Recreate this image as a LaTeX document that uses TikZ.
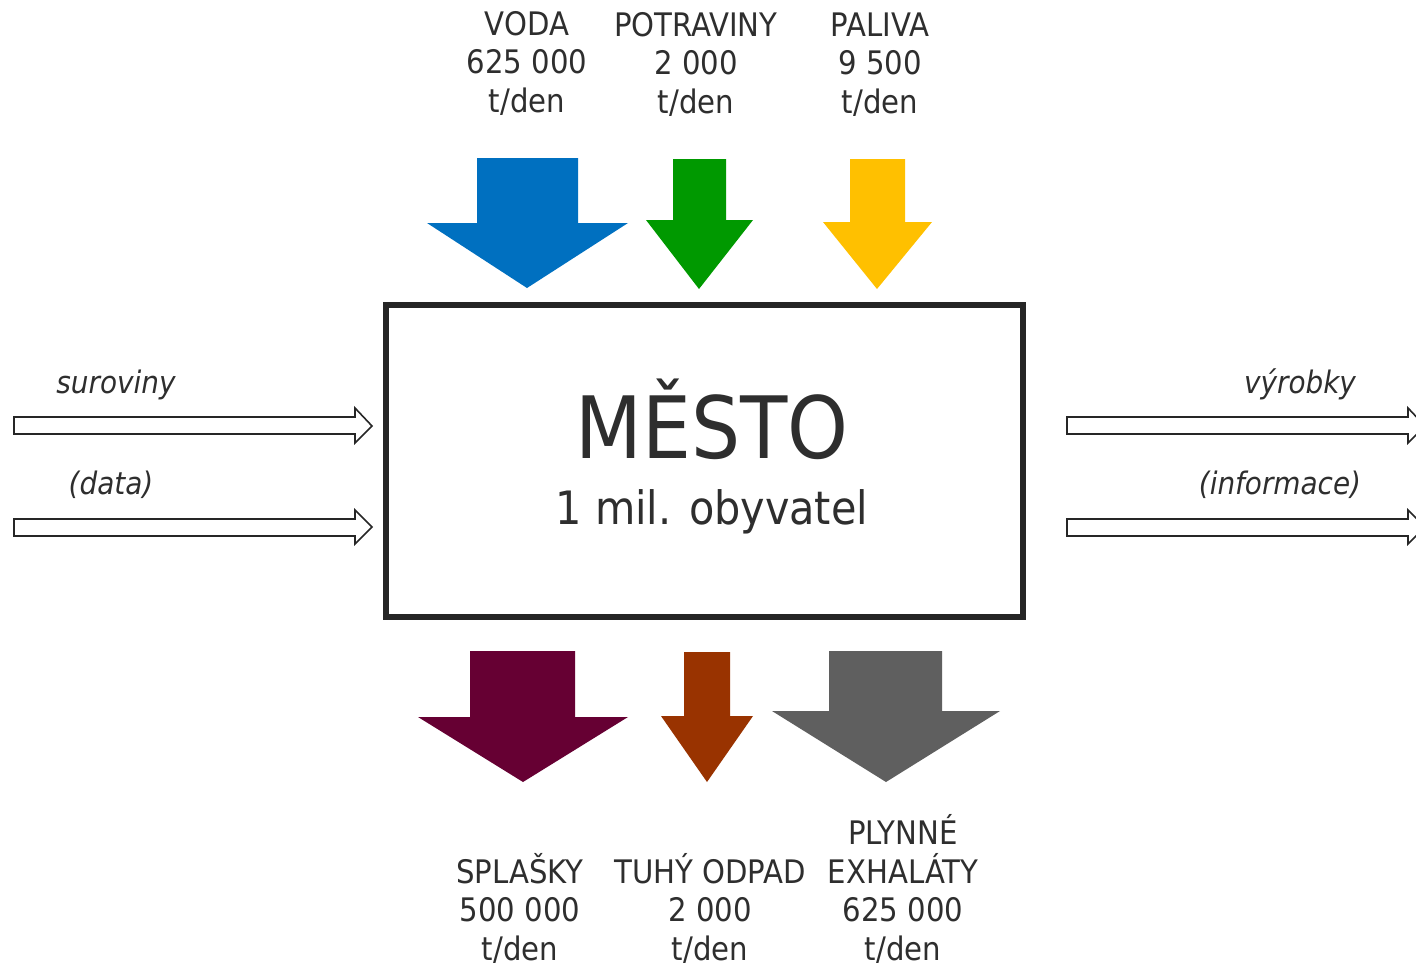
\documentclass[tikz,border=0pt]{standalone}
\usepackage{fontspec}
\setmainfont{DejaVu Sans Condensed}
\definecolor{txt}{HTML}{2E2E2E}
\definecolor{boxc}{HTML}{262626}
\definecolor{cblue}{HTML}{0070C0}
\definecolor{cgreen}{HTML}{009900}
\definecolor{cyellow}{HTML}{FFC000}
\definecolor{cpurple}{HTML}{660033}
\definecolor{cbrown}{HTML}{993300}
\definecolor{cgray}{HTML}{5F5F5F}
\newcommand{\fatdown}[9]{% color, shaftL, shaftR, top, headY, headL, headR, tipX, tipY
  \fill[#1] (#2,#4) -- (#3,#4) -- (#3,#5) -- (#7,#5) -- (#8,#9) -- (#6,#5) -- (#2,#5) -- cycle;}
\tikzset{
  lbl/.style={text=txt, align=center, anchor=base, inner sep=0pt, font=\fontsize{32.4}{38.5}\selectfont},
  ilbl/.style={text=txt, anchor=base, inner sep=0pt, font=\fontsize{31}{36}\selectfont\itshape},
  hollow/.style={draw=boxc, fill=white, line width=1.6pt, line join=miter},
}
\begin{document}
\begin{tikzpicture}[x=1pt,y=-1pt]
\clip (0,0) rectangle (1416,967);
\fill[white] (0,0) rectangle (1416,967);

% central box
\node[draw=boxc, line width=6pt, minimum width=637pt, minimum height=312pt, inner sep=0pt] (city) at (704.5,461) {};
\node[text=txt, anchor=base, inner sep=0pt, font=\fontsize{86}{86}\selectfont] (mesto) at (712,458) {MĚSTO};
\node[text=txt, anchor=base, inner sep=0pt, font=\fontsize{46}{46}\selectfont] (obyv) at (712,524.5) {1 mil. obyvatel};

% top labels (anchor = baseline of last line)
\node[lbl] (voda) at (527,112) {VODA\\625 000\\t/den};
\node[lbl] (potr) at (696,113) {POTRAVINY\\2 000\\t/den};
\node[lbl] (paliva) at (880,113) {PALIVA\\9 500\\t/den};

% top arrows
\fatdown{cblue}{477}{578}{158}{223}{427}{628}{527}{288}
\fatdown{cgreen}{673}{726}{159}{220}{646}{753}{699}{289}
\fatdown{cyellow}{850}{905}{159}{222}{823}{932}{877}{289}

% bottom arrows
\fatdown{cpurple}{470}{575}{651}{717}{418}{628}{523}{782}
\fatdown{cbrown}{684}{730}{652}{716}{661}{753}{707}{782}
\fatdown{cgray}{829}{942}{651}{711}{772}{1000}{886}{782}

% bottom labels (anchor = baseline of last line)
\node[lbl] (splasky) at (520,960) {SPLAŠKY\\500 000\\t/den};
\node[lbl] (tuhy) at (710,960) {TUHÝ ODPAD\\2 000\\t/den};
\node[lbl] (plyn) at (903,960) {PLYNNÉ\\EXHALÁTY\\625 000\\t/den};

% side hollow arrows
\draw[hollow] (14,417) -- (355,417) -- (355,408) -- (372,426) -- (355,443) -- (355,434) -- (14,434) -- cycle;
\draw[hollow] (14,519) -- (355,519) -- (355,510) -- (372,527) -- (355,544) -- (355,536) -- (14,536) -- cycle;
\draw[hollow] (1067,417) -- (1408,417) -- (1408,408) -- (1425,426) -- (1408,443) -- (1408,434) -- (1067,434) -- cycle;
\draw[hollow] (1067,519) -- (1408,519) -- (1408,510) -- (1425,527) -- (1408,544) -- (1408,536) -- (1067,536) -- cycle;

% side labels
\node[ilbl] (surov) at (116,393) {suroviny};
\node[ilbl] (data) at (111,494) {(data)};
\node[ilbl] (vyrob) at (1300,393) {výrobky};
\node[ilbl] (info) at (1280,494) {(informace)};
\end{tikzpicture}
\end{document}
